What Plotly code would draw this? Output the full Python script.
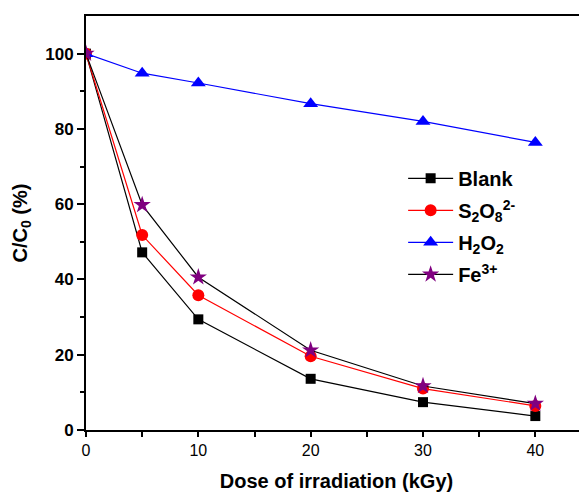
import plotly.graph_objects as go

dose = [0, 5, 10, 20, 30, 40]
blank = [100, 47.2, 29.4, 13.6, 7.4, 3.7]
s2o8 = [100, 51.8, 35.8, 19.6, 11.0, 6.4]
h2o2 = [100, 94.8, 92.2, 86.7, 82.0, 76.4]
fe3 = [100, 59.8, 40.6, 21.2, 11.7, 7.0]

series = [
    ("Blank", blank, "black", "black", "square", 10),
    ("S<sub>2</sub>O<sub>8</sub><sup>2-</sup>", s2o8, "red", "red", "circle", 12),
    ("H<sub>2</sub>O<sub>2</sub>", h2o2, "blue", "blue", "triangle-up", 13),
    ("Fe<sup>3+</sup>", fe3, "black", "purple", "star", 13),
]

fig = go.Figure()
for i, (name, vals, lc, mc, sym, sz) in enumerate(series):
    fig.add_trace(go.Scatter(
        x=dose, y=vals, name=name, mode="lines+markers", legendgroup=f"g{i}",
        line=dict(color=lc, width=1.2),
        marker=dict(color=mc, symbol=sym, size=sz, line=dict(width=0)),
    ))

fig.update_layout(
    width=579, height=486,
    margin=dict(l=78, r=0, t=8, b=64),
    plot_bgcolor="white", paper_bgcolor="white",
    font=dict(family="Liberation Sans, Arial, sans-serif", color="black"),
    showlegend=True,
    legend=dict(
        x=0.633, y=0.655, xanchor="left", yanchor="top",
        font=dict(size=20, family="Liberation Sans, Arial, sans-serif", color="black", weight="bold"),
        bgcolor="rgba(0,0,0,0)", tracegroupgap=3, itemwidth=45,
    ),
    xaxis=dict(
        range=[0, 44.6], showgrid=False, zeroline=False,
        showline=True, linecolor="black", linewidth=2, mirror=True,
        ticks="outside", tickcolor="black", ticklen=5, tickwidth=1.5,
        tickvals=[0, 10, 20, 30, 40],
        tickfont=dict(size=16),
        minor=dict(tickvals=[5, 15, 25, 35, 45], ticks="outside", ticklen=5, tickcolor="black", tickwidth=1.5),
        title=dict(text="Dose of irradiation (kGy)", font=dict(size=20, weight="bold"), standoff=16),
    ),
    yaxis=dict(
        range=[0, 110], showgrid=False, zeroline=False,
        showline=True, linecolor="black", linewidth=2, mirror=False,
        ticks="outside", tickcolor="black", ticklen=7, tickwidth=1.5,
        tickvals=[0, 20, 40, 60, 80, 100],
        tickfont=dict(size=17, weight="bold"),
        minor=dict(tickvals=[10, 30, 50, 70, 90], ticks="outside", ticklen=4, tickcolor="black", tickwidth=1.5),
        title=dict(text="C/C<sub>0</sub> (%)", font=dict(size=20, weight="bold"), standoff=12),
    ),
)

fig.write_html("out.html")
